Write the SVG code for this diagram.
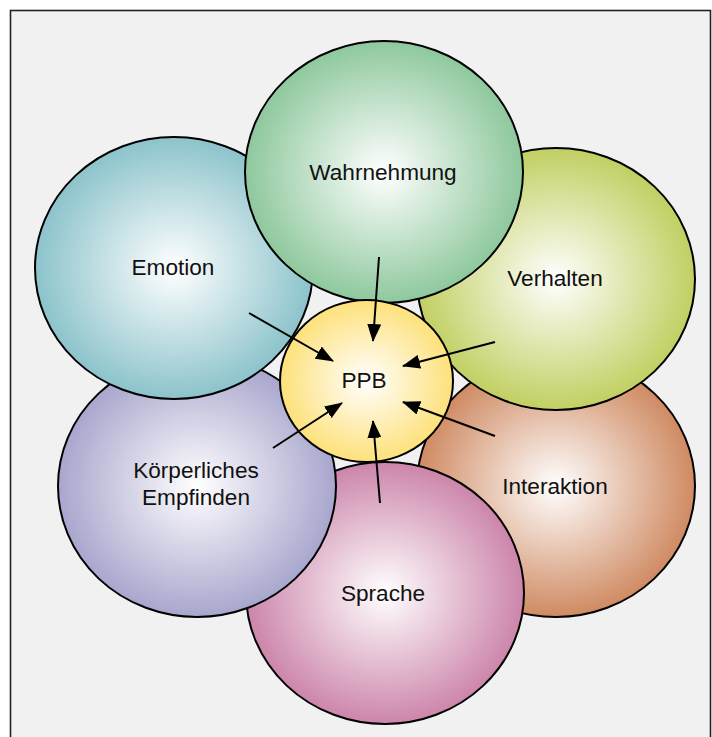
<svg xmlns="http://www.w3.org/2000/svg" width="712" height="737" viewBox="0 0 712 737">
  <style>
    .bubble { stroke: #000; stroke-width: 2; }
    .label { font-family: "Liberation Sans", Arial, Helvetica, sans-serif; font-size: 22.6px; fill: #111; text-anchor: middle; }
    .link { stroke: #000; stroke-width: 2; fill: none; marker-end: url(#head); }
  </style>
  <defs>
    <marker id="head" markerUnits="userSpaceOnUse" markerWidth="18" markerHeight="14" viewBox="0 0 18 14" refX="17" refY="7" orient="auto">
      <path d="M0,0 L18,7 L0,14 Z" fill="#000"/>
    </marker>
    <radialGradient id="gWahr" cx="50%" cy="50%" r="50%">
      <stop offset="0" stop-color="#ffffff"/>
      <stop offset="1" stop-color="#8ec89d"/>
    </radialGradient>
    <radialGradient id="gEmo" cx="50%" cy="50%" r="50%">
      <stop offset="0" stop-color="#ffffff"/>
      <stop offset="1" stop-color="#8cc3cb"/>
    </radialGradient>
    <radialGradient id="gVer" cx="50%" cy="50%" r="50%">
      <stop offset="0" stop-color="#ffffff"/>
      <stop offset="1" stop-color="#c2cf62"/>
    </radialGradient>
    <radialGradient id="gInt" cx="50%" cy="50%" r="50%">
      <stop offset="0" stop-color="#ffffff"/>
      <stop offset="1" stop-color="#cf8a62"/>
    </radialGradient>
    <radialGradient id="gSpr" cx="50%" cy="50%" r="50%">
      <stop offset="0" stop-color="#ffffff"/>
      <stop offset="1" stop-color="#cc85aa"/>
    </radialGradient>
    <radialGradient id="gKoe" cx="50%" cy="50%" r="50%">
      <stop offset="0" stop-color="#ffffff"/>
      <stop offset="1" stop-color="#a8a6cd"/>
    </radialGradient>
    <radialGradient id="gPPB" cx="50%" cy="50%" r="50%">
      <stop offset="0" stop-color="#ffffff"/>
      <stop offset="1" stop-color="#fde17a"/>
    </radialGradient>
  </defs>

  <!-- page and frame -->
  <rect x="0" y="0" width="712" height="737" fill="#ffffff"/>
  <rect x="10.5" y="10.5" width="700" height="740" fill="#f1f1f1" stroke="#222" stroke-width="1.6"/>

  <!-- surrounding bubbles, back to front -->
  <g id="interaktion">
    <ellipse class="bubble" cx="556" cy="486" rx="139" ry="131" fill="url(#gInt)"/>
    <text class="label" x="555" y="494">Interaktion</text>
  </g>
  <g id="verhalten">
    <ellipse class="bubble" cx="556" cy="279" rx="139" ry="131" fill="url(#gVer)"/>
    <text class="label" x="555" y="286">Verhalten</text>
  </g>
  <g id="sprache">
    <ellipse class="bubble" cx="385" cy="593" rx="139" ry="131" fill="url(#gSpr)"/>
    <text class="label" x="383" y="601">Sprache</text>
  </g>
  <g id="koerperliches-empfinden">
    <ellipse class="bubble" cx="197" cy="486" rx="139" ry="131" fill="url(#gKoe)"/>
    <text class="label" x="196" y="478">Körperliches</text>
    <text class="label" x="196" y="505">Empfinden</text>
  </g>
  <g id="emotion">
    <ellipse class="bubble" cx="174" cy="268" rx="139" ry="131" fill="url(#gEmo)"/>
    <text class="label" x="173" y="275">Emotion</text>
  </g>
  <g id="wahrnehmung">
    <ellipse class="bubble" cx="384" cy="172" rx="139" ry="131" fill="url(#gWahr)"/>
    <text class="label" x="383" y="180">Wahrnehmung</text>
  </g>

  <!-- centre -->
  <g id="ppb">
    <ellipse class="bubble" cx="366.5" cy="381" rx="86.5" ry="81" fill="url(#gPPB)"/>
    <text class="label" x="364" y="388">PPB</text>
  </g>

  <!-- arrows into the centre -->
  <g id="connectors">
    <line class="link" x1="379" y1="257" x2="373" y2="341"/>
    <line class="link" x1="249" y1="313" x2="333" y2="361"/>
    <line class="link" x1="495" y1="342" x2="403" y2="366"/>
    <line class="link" x1="495" y1="436" x2="403" y2="402"/>
    <line class="link" x1="380" y1="503" x2="373" y2="421"/>
    <line class="link" x1="273" y1="448" x2="342" y2="403"/>
  </g>
</svg>
